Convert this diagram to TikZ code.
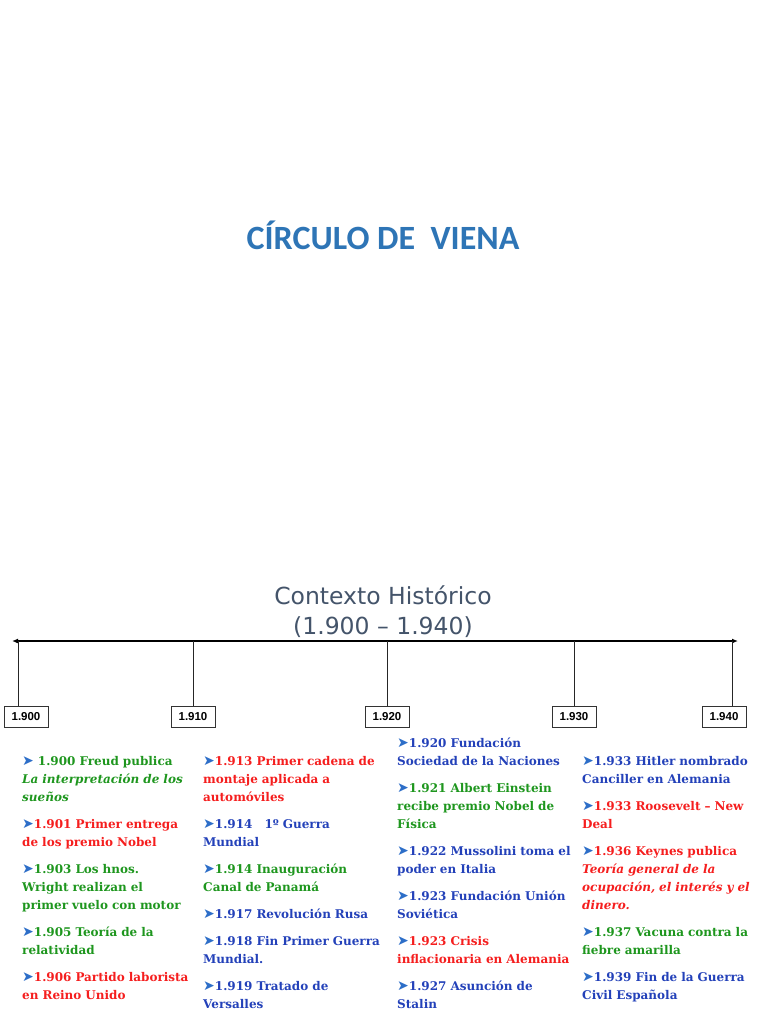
\documentclass[tikz,border=0pt]{standalone}
\usepackage{fontspec}
\setmainfont{DejaVu Serif}
\newfontfamily\titlefont{Carlito}
\newfontfamily\subtitlefont{DejaVu Sans}
\newfontfamily\boxfont{Liberation Sans}
\newfontfamily\bulletfont{DejaVu Sans}
\usetikzlibrary{arrows.meta}

\definecolor{titleblue}{RGB}{46,117,182}
\definecolor{greyblue}{RGB}{68,84,106}
\definecolor{evgreen}{RGB}{30,150,30}
\definecolor{evred}{RGB}{245,30,30}
\definecolor{evblue}{RGB}{35,65,185}
\definecolor{bulletblue}{RGB}{45,110,200}

\newcommand{\flecha}{{\bulletfont\fontsize{14}{18}\selectfont\color{bulletblue}\char"27A4}}

\begin{document}
\begin{tikzpicture}[x=1pt, y=-1pt]
  \tikzset{evento/.style={anchor=north west, yshift=12.6pt, align=left, text width=185pt,
             inner sep=0pt, text=#1, font=\fontsize{12}{18}\selectfont\bfseries,
             execute at begin node=\strut},
           anio/.style={draw=black!80, line width=0.8pt, fill=white, minimum width=44pt,
             minimum height=21pt, inner sep=0pt, font=\boxfont\bfseries\fontsize{11.5}{12}\selectfont},
           eje/.style={<->, >={Latex[length=6pt, width=5pt]}, line width=1.6pt},
           marca/.style={draw=black!85, line width=0.8pt}}
  \useasboundingbox (0,0) rectangle (768,1024);

  % titles
  \node[font=\titlefont\bfseries\fontsize{34}{36}\selectfont, text=titleblue] (titulo) at (383,235) {CÍRCULO DE \ VIENA};
  \node[font=\subtitlefont\fontsize{23.5}{30}\selectfont, text=greyblue, align=center] (contexto) at (383,612)
    {Contexto Histórico\\(1.900 – 1.940)};

  % timeline
  \coordinate (ejeL) at (12,641);
  \coordinate (ejeR) at (738,641);
  \draw[eje] (ejeL) -- (ejeR);

  \node[anio] (b1900) at (26,716.5) {1.900};
  \node[anio] (b1910) at (193,716.5) {1.910};
  \node[anio] (b1920) at (387,716.5) {1.920};
  \node[anio] (b1930) at (574,716.5) {1.930};
  \node[anio] (b1940) at (724,716.5) {1.940};

  \foreach \a/\x in {1900/18, 1910/193, 1920/387, 1930/574, 1940/732} {
    \coordinate (t\a) at (\x,641);
    \draw[marca] (t\a) -- (t\a |- b\a.north);
  }

  % 1900 - 1910
  \node[evento=evgreen] (e1900) at (22,765) {\flecha\ 1.900 Freud publica\\\textit{La interpretación de los}\\\textit{sueños}};
  \node[evento=evred] (e1901) at (22,828) {\flecha1.901 Primer entrega\\de los premio Nobel};
  \node[evento=evgreen] (e1903) at (22,873) {\flecha1.903 Los hnos.\\Wright realizan el\\primer vuelo con motor};
  \node[evento=evgreen] (e1905) at (22,936) {\flecha1.905 Teoría de la\\relatividad};
  \node[evento=evred] (e1906) at (22,981) {\flecha1.906 Partido laborista\\en Reino Unido};

  % 1910 - 1920
  \node[evento=evred] (e1913) at (203,765) {\flecha1.913 Primer cadena de\\montaje aplicada a\\automóviles};
  \node[evento=evblue] (e1914a) at (203,828) {\flecha1.914 \ \ 1º Guerra\\Mundial};
  \node[evento=evgreen] (e1914b) at (203,873) {\flecha1.914 Inauguración\\Canal de Panamá};
  \node[evento=evblue] (e1917) at (203,918) {\flecha1.917 Revolución Rusa};
  \node[evento=evblue] (e1918) at (203,945) {\flecha1.918 Fin Primer Guerra\\Mundial.};
  \node[evento=evblue] (e1919) at (203,990) {\flecha1.919 Tratado de\\Versalles};

  % 1920 - 1930
  \node[evento=evblue] (e1920) at (397,747) {\flecha1.920 Fundación\\Sociedad de la Naciones};
  \node[evento=evgreen] (e1921) at (397,792) {\flecha1.921 Albert Einstein\\recibe premio Nobel de\\Física};
  \node[evento=evblue] (e1922) at (397,855) {\flecha1.922 Mussolini toma el\\poder en Italia};
  \node[evento=evblue] (e1923a) at (397,900) {\flecha1.923 Fundación Unión\\Soviética};
  \node[evento=evred] (e1923b) at (397,945) {\flecha1.923 Crisis\\inflacionaria en Alemania};
  \node[evento=evblue] (e1927) at (397,990) {\flecha1.927 Asunción de\\Stalin};

  % 1930 - 1940
  \node[evento=evblue] (e1933a) at (582,765) {\flecha1.933 Hitler nombrado\\Canciller en Alemania};
  \node[evento=evred] (e1933b) at (582,810) {\flecha1.933 Roosevelt – New\\Deal};
  \node[evento=evred] (e1936) at (582,855) {\flecha1.936 Keynes publica\\\textit{Teoría general de la}\\\textit{ocupación, el interés y el}\\\textit{dinero.}};
  \node[evento=evgreen] (e1937) at (582,936) {\flecha1.937 Vacuna contra la\\fiebre amarilla};
  \node[evento=evblue] (e1939) at (582,981) {\flecha1.939 Fin de la Guerra\\Civil Española};
\end{tikzpicture}
\end{document}
